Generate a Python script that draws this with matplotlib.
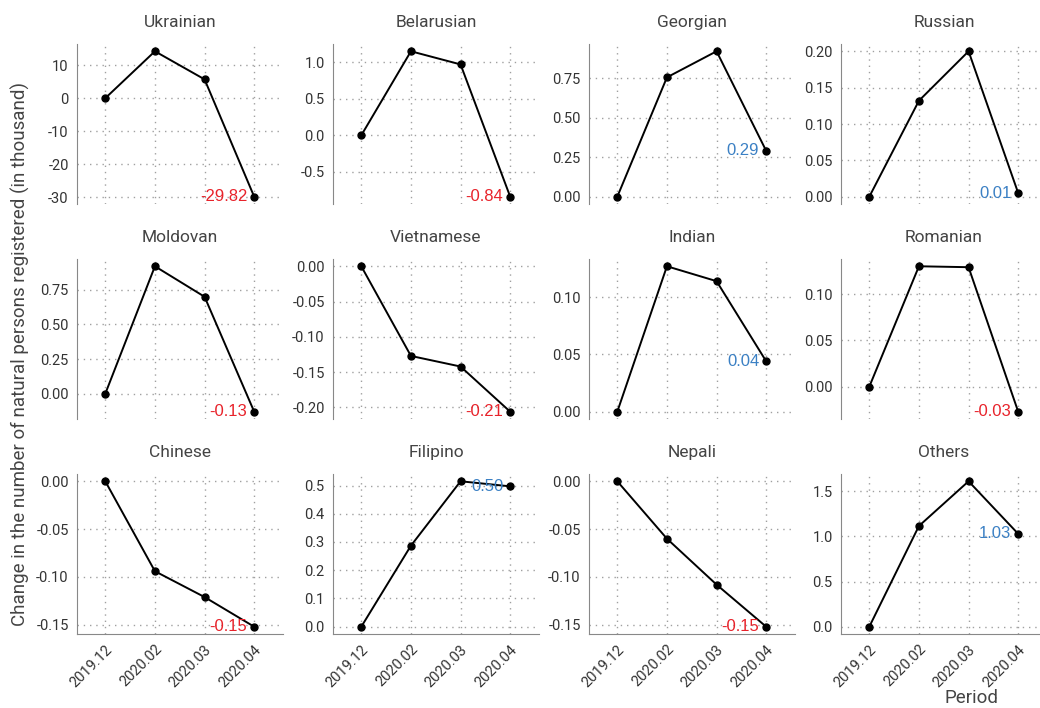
import matplotlib.pyplot as plt
from matplotlib.ticker import MultipleLocator

periods = ["2019.12", "2020.02", "2020.03", "2020.04"]

ukrainian = [0, 14.2, 5.7, -29.82]
belarusian = [0, 1.15, 0.97, -0.84]
georgian = [0, 0.755, 0.92, 0.29]
russian = [0, 0.132, 0.200, 0.005]
moldovan = [0, 0.92, 0.70, -0.13]
vietnamese = [0, -0.127, -0.142, -0.206]
indian = [0, 0.127, 0.114, 0.044]
romanian = [0, 0.130, 0.129, -0.027]
chinese = [0, -0.094, -0.121, -0.152]
filipino = [0, 0.287, 0.515, 0.497]
nepali = [0, -0.060, -0.108, -0.152]
others = [0, 1.115, 1.61, 1.028]

names = ["Ukrainian", "Belarusian", "Georgian", "Russian",
         "Moldovan", "Vietnamese", "Indian", "Romanian",
         "Chinese", "Filipino", "Nepali", "Others"]
series = [ukrainian, belarusian, georgian, russian,
          moldovan, vietnamese, indian, romanian,
          chinese, filipino, nepali, others]

plt.rcParams['font.family'] = ['Roboto', 'DejaVu Sans']
plt.rcParams['axes.unicode_minus'] = False

W, H = 1040, 708
fig = plt.figure(figsize=(W / 100, H / 100), dpi=100)

lefts = [77, 333, 589, 841]
tops = [44, 259, 474]
aw, ah = 206, 160

x = list(range(len(periods)))
for i, (name, y) in enumerate(zip(names, series)):
    r, c = divmod(i, 4)
    ax = fig.add_axes([lefts[c] / W, 1 - (tops[r] + ah) / H, aw / W, ah / H])
    ax.plot(x, y, color='black', lw=1.4, marker='o', ms=5, zorder=3)
    ax.set_xlim(-0.57, 3.58)
    ax.set_xticks(x)
    if name == "Filipino":
        ax.yaxis.set_major_locator(MultipleLocator(0.1))
    ax.grid(True, linestyle=(0, (1, 3.5)), color='#a0a0a0', lw=1)
    ax.set_axisbelow(True)
    for s in ['top', 'right']:
        ax.spines[s].set_visible(False)
    ax.spines['left'].set_color('#888888')
    ax.spines['bottom'].set_color('#888888')
    ax.tick_params(length=0, labelsize=10.5, labelcolor='#333333', pad=6)
    if r < 2:
        ax.spines['bottom'].set_visible(False)
        ax.set_xticklabels([])
    else:
        ax.set_xticklabels(periods, rotation=45, ha='right', rotation_mode='anchor')
    ax.set_title(name, fontsize=12.5, color='#444444', pad=12)
    last = y[-1]
    col = '#e8232b' if last < 0 else '#3b80c4'
    ax.annotate(f"{last:.2f}", (x[-1], last), xytext=(-5, 0), textcoords='offset points',
                ha='right', va='center', color=col, fontsize=12, family='Liberation Sans')

fig.text(20 / W, 0.5, "Change in the number of natural persons registered (in thousand)",
         rotation=90, ha='center', va='center', fontsize=13.5, color='#444444')
fig.text(972 / W, 1 - 698 / H, "Period", ha='center', va='center', fontsize=13.5, color='#444444')

fig.savefig("out.png", dpi=100)
